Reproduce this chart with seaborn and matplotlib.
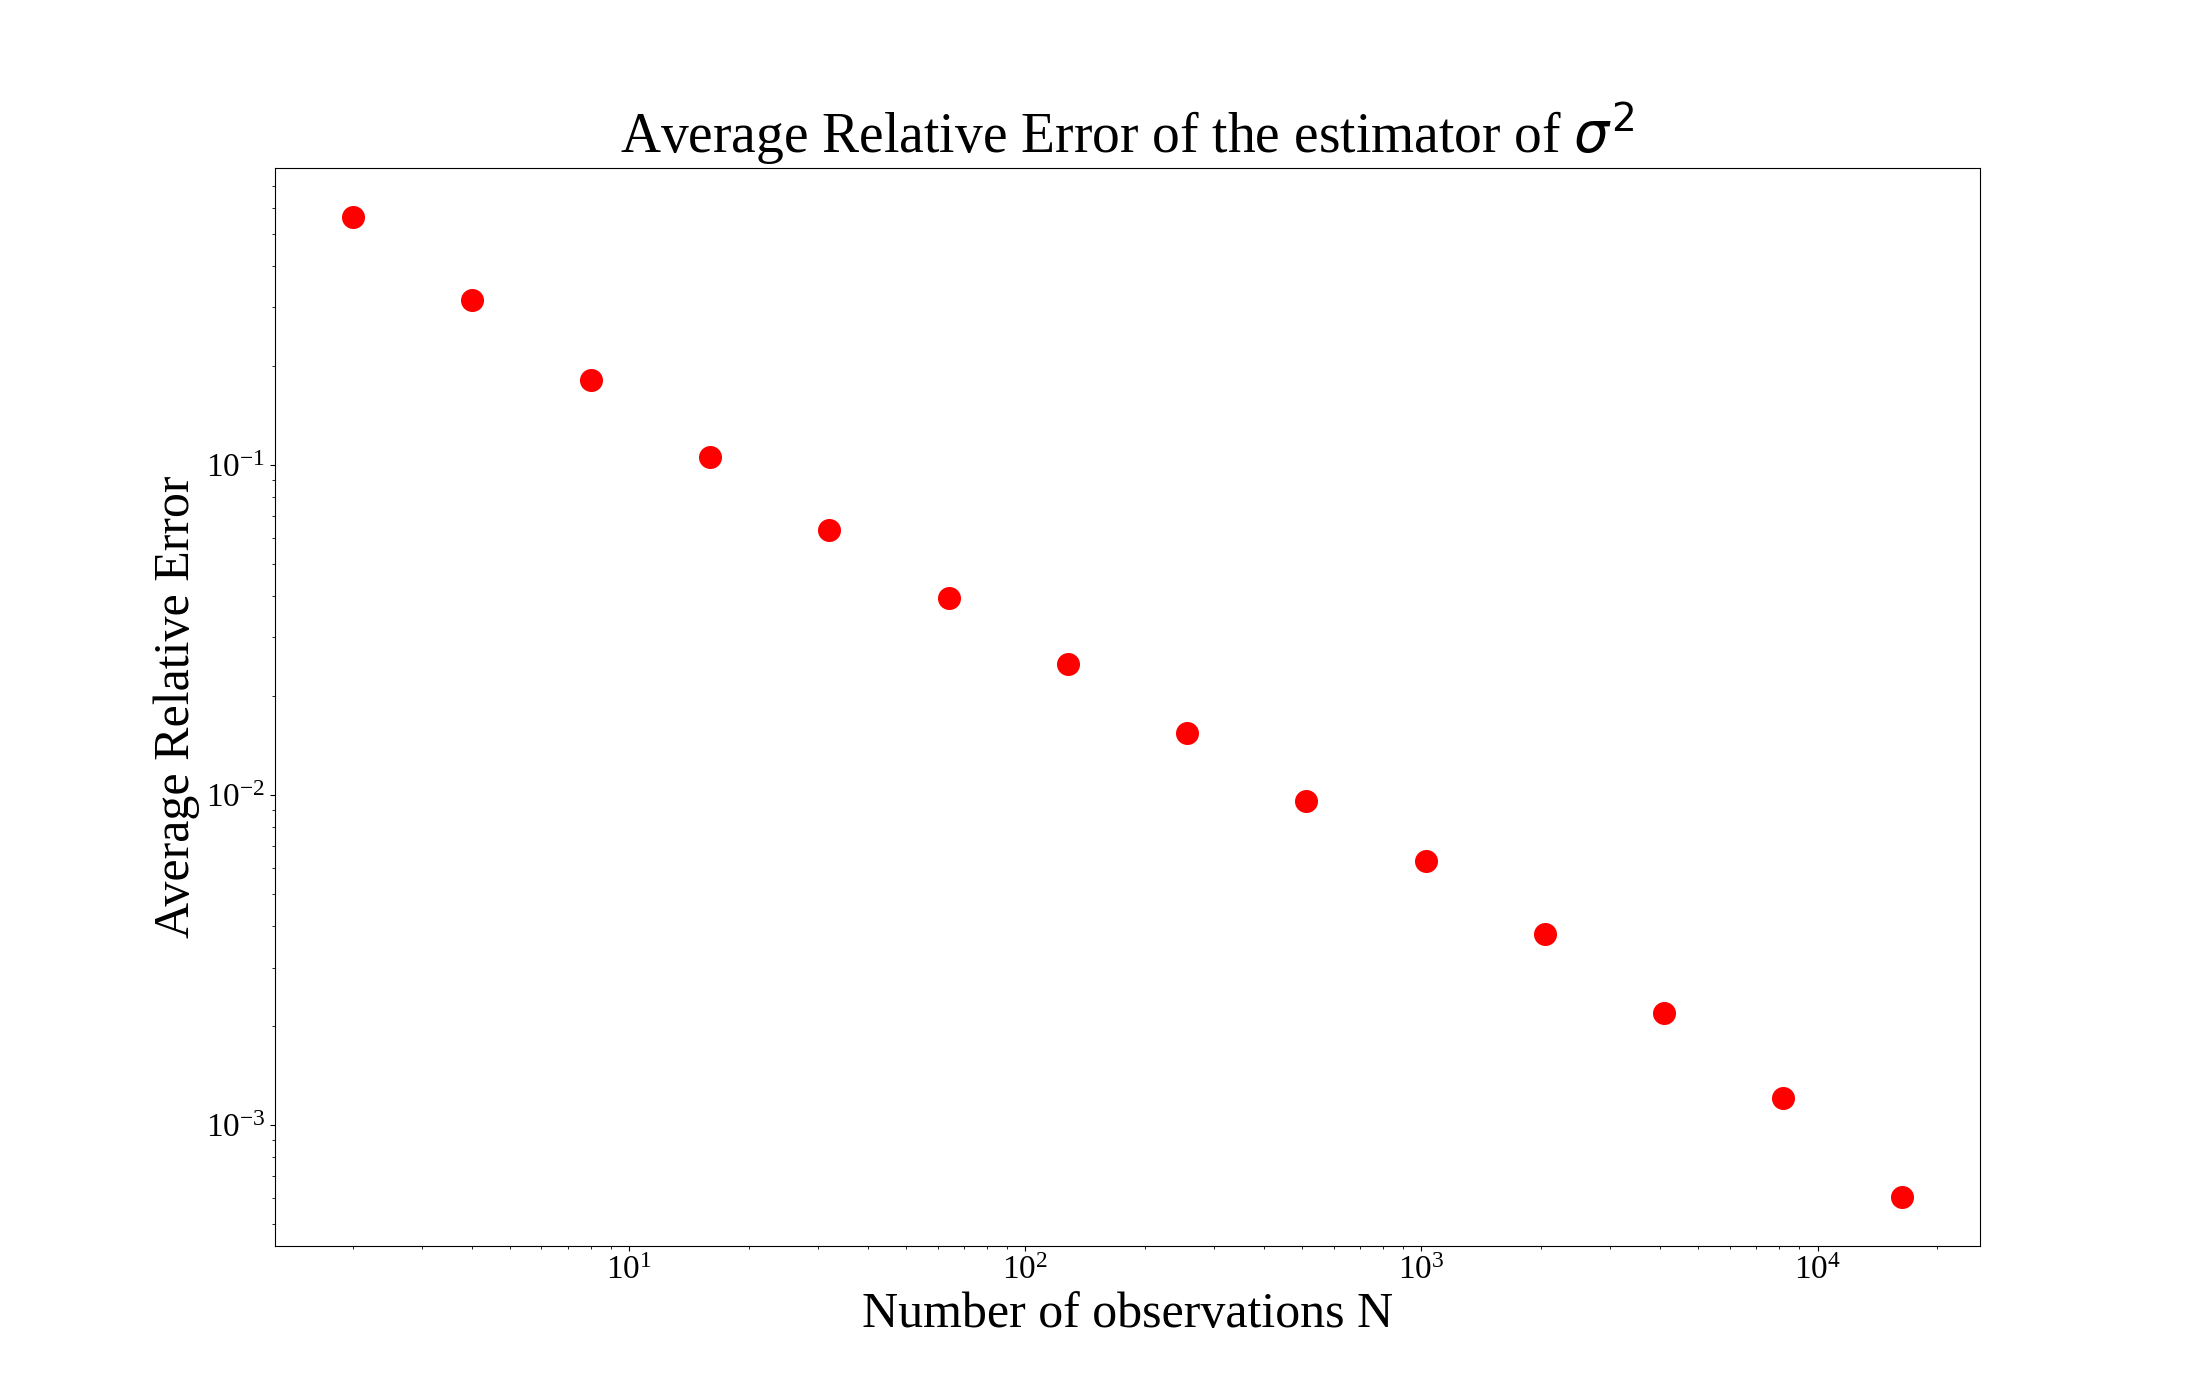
import matplotlib
matplotlib.use("Agg")
import matplotlib.pyplot as plt
import seaborn as sns
import pandas as pd

# number of observations (powers of two) and average relative error
n_obs = [2, 4, 8, 16, 32, 64, 128, 256, 512, 1024, 2048, 4096, 8192, 16384]
avg_rel_error = [0.564, 0.316, 0.181, 0.1056, 0.0634, 0.0394, 0.0249, 0.01538,
                 0.00958, 0.00630, 0.00378, 0.00219, 0.001205, 0.000605]

plt.rcParams['font.family'] = ['Liberation Serif', 'DejaVu Serif']

df = pd.DataFrame({'N': n_obs, 'error': avg_rel_error})

fig, ax = plt.subplots(figsize=(22, 14), dpi=100)
sns.scatterplot(data=df, x='N', y='error', color='red', s=275,
                linewidth=0, ax=ax)
ax.set_xscale('log')
ax.set_yscale('log')

ax.set_title(r'Average Relative Error of the estimator of $\sigma^2$', fontsize=40, pad=3)
ax.set_xlabel('Number of observations N', fontsize=36)
ax.set_ylabel('Average Relative Error', fontsize=36)
ax.tick_params(axis='both', which='major', labelsize=24)

fig.savefig('out.png', dpi=100)
